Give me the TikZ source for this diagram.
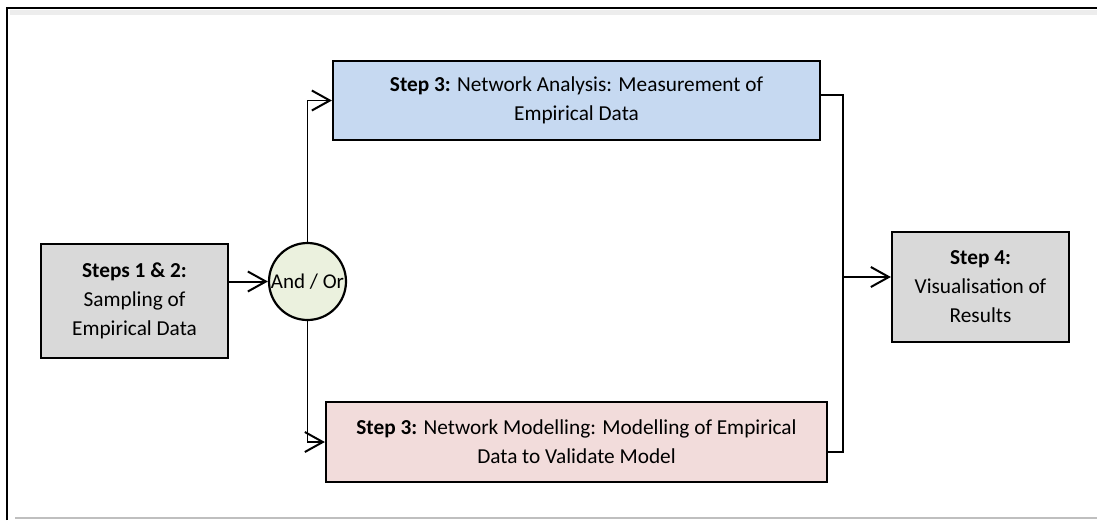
\documentclass[tikz,border=0pt]{standalone}
\usepackage{fontspec}
\setmainfont{Carlito}
\usetikzlibrary{positioning,arrows.meta}

\tikzset{
  stepbox/.style={draw, line width=2.2pt, rectangle, align=center, inner sep=2pt,
    font=\fontsize{21.3}{29}\selectfont},
  link/.style={line width=1.5pt},
  arrow/.style={line width=2pt, -{Straight Barb[length=18pt,width=20pt,line width=2pt]}}
}
\definecolor{boxgray}{HTML}{D9D9D9}
\definecolor{boxblue}{HTML}{C6D9F1}
\definecolor{boxpink}{HTML}{F2DCDB}
\definecolor{boxgreen}{HTML}{EBF1DE}

\begin{document}
\begin{tikzpicture}[x=1pt, y=-1pt]
        \useasboundingbox (0,0) rectangle (1097,520);

        % Frame
        \draw[black!7, line width=5pt] (10,12) -- (1097,12);
        \draw[line width=1.8pt] (7,520) -- (7,8) -- (1097,8);
        \draw[black!25, line width=1.5pt] (15,518) -- (1097,518);

        % Nodes
        \node[stepbox, fill=boxgray, minimum width=187pt, minimum height=114pt] (sampling) at (134.5,301)
          {\textbf{Steps 1 \& 2:}\\Sampling of\\Empirical Data};
        \node[draw, line width=2.2pt, circle, fill=boxgreen, minimum size=77pt, inner sep=0pt,
          font=\fontsize{21}{29}\selectfont] (andor) at (307.5,281.5) {\makebox[0pt]{And / Or}};
        \node[stepbox, fill=boxblue, minimum width=487pt, minimum height=79pt] (analysis) at (576.5,100.5)
          {\textbf{Step 3:} Network Analysis: Measurement of\\Empirical Data};
        \node[stepbox, fill=boxpink, minimum width=501pt, minimum height=80pt] (modelling) at (576.5,442)
          {\textbf{Step 3:} Network Modelling: Modelling of Empirical\\Data to Validate Model};
        \node[stepbox, fill=boxgray, minimum width=177pt, minimum height=110pt] (visual) at (980.5,287)
          {\textbf{Step 4:}\\Visualisation of\\Results};
        \coordinate (join) at (843,277);

        % Arrows
        \draw[arrow] (andor.west -| sampling.east) -- (andor.west);
        \draw[arrow, line width=1.7pt] (andor.north) |- (analysis.west);
        \draw[arrow, line width=1.7pt] (andor.south) |- (modelling.west);
        \draw[link] ([yshift=5.5pt]analysis.east) -| (join) |- ([yshift=-10pt]modelling.east);
        \draw[arrow] (join) -- (join -| visual.west);
    \end{tikzpicture}
\end{document}
